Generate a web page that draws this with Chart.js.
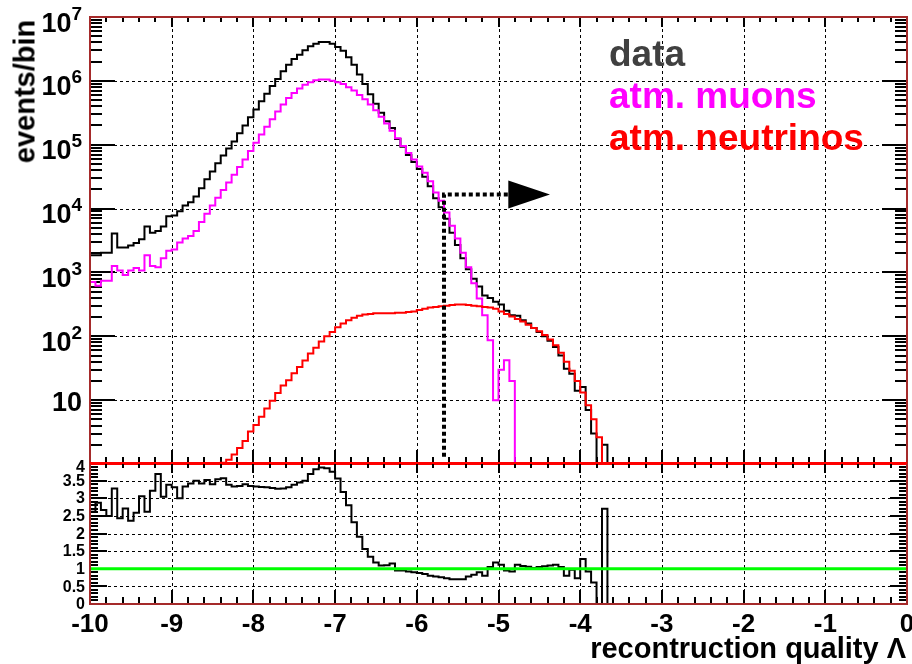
<!DOCTYPE html>
<html>
<head>
<meta charset="utf-8">
<script src="https://cdn.jsdelivr.net/npm/chart.js@4.4.1/dist/chart.umd.min.js"></script>
<style>
  body { margin: 0; background: #fff; }
  #wrap { position: relative; width: 912px; height: 664px; overflow: hidden;
          font-family: "Liberation Sans", Arial, Helvetica, sans-serif; font-weight: bold; }
  #wrap canvas { position: absolute; left: 0; }
  .lbl  { position: absolute; line-height: 1; white-space: nowrap; color: #000; }
  .xlbl { width: 80px; text-align: center; font-size: 26px; }
  .ylbl { text-align: right; font-size: 27px; }
  .ylbl .exp { font-size: 19px; position: relative; top: -6px; vertical-align: top; }
  .rlbl { text-align: right; font-size: 16px; }
  .leg  { position: absolute; left: 609px; font-size: 37px; line-height: 1; white-space: nowrap; }
</style>
</head>
<body>
<div id="wrap">
  <canvas id="cTop"   width="912" height="470" style="top:0"></canvas>
  <canvas id="cRatio" width="912" height="160" style="top:455px"></canvas>
</div>
<script>
/* ══════════════════════════════════════════════════════
   events/bin vs reconstruction quality  |  data vs MC + ratio
   ══════════════════════════════════════════════════════ */

'use strict';

// ── Axis ranges ─────────────────────────────────────
const X_MIN = -10, X_MAX = 0;
const Y_MIN = 1,   Y_MAX = 1e7;
const R_MIN = 0,   R_MAX = 4;

// ── Histograms: 150 bins from -10 to 0, events per bin ──
const DATA_COUNTS = [
  1860, 1860, 2040, 2040, 4070, 2450, 2450, 2630, 2880, 3310, 5250, 4170, 4470, 5250, 7590,
  7760, 9120, 11200, 12600, 15500, 20900, 28800, 38000, 51300, 67600, 87100, 112000, 151000, 200000, 269000,
  355000, 479000, 631000, 832000, 1070000, 1410000, 1780000, 2190000, 2570000, 3020000, 3470000, 3800000, 4070000, 4070000, 3800000,
  3390000, 2950000, 2340000, 1780000, 1260000, 891000, 617000, 437000, 316000, 234000, 182000, 123000, 93300, 69200, 53700,
  41700, 31600, 22400, 14500, 10500, 6920, 4170, 2690, 1660, 1120, 794, 603, 437, 398, 347,
  316, 251, 214, 209, 178, 158, 135, 117, 100, 85, 68, 50, 31, 26, 14,
  16, 7, 3, 0, 2, 0, 0, 0, 0, 0, 0, 0, 0, 0, 0,
  0, 0, 0, 0, 0, 0, 0, 0, 0, 0, 0, 0, 0, 0, 0,
  0, 0, 0, 0, 0, 0, 0, 0, 0, 0, 0, 0, 0, 0, 0,
  0, 0, 0, 0, 0, 0, 0, 0, 0, 0, 0, 0, 0, 0, 0
];

const MUON_COUNTS = [
  708, 617, 741, 741, 1260, 1070, 912, 1070, 1170, 1070, 1860, 1260, 1200, 1660, 2190,
  2290, 2950, 3390, 3720, 4470, 6170, 8320, 11200, 14800, 19500, 25700, 33900, 44700, 58900, 79400,
  107000, 145000, 191000, 251000, 331000, 427000, 537000, 646000, 759000, 871000, 955000, 1020000, 1050000, 1050000, 1000000,
  955000, 891000, 794000, 708000, 603000, 513000, 427000, 347000, 275000, 214000, 166000, 126000, 95500, 74100, 58900,
  45700, 36300, 26900, 17800, 13200, 8710, 5370, 3390, 2040, 1200, 676, 389, 214, 87, 10,
  30, 42, 20, 0, 0, 0, 0, 0, 0, 0, 0, 0, 0, 0, 0,
  0, 0, 0, 0, 0, 0, 0, 0, 0, 0, 0, 0, 0, 0, 0,
  0, 0, 0, 0, 0, 0, 0, 0, 0, 0, 0, 0, 0, 0, 0,
  0, 0, 0, 0, 0, 0, 0, 0, 0, 0, 0, 0, 0, 0, 0,
  0, 0, 0, 0, 0, 0, 0, 0, 0, 0, 0, 0, 0, 0, 0
];

const NU_COUNTS = [
  0, 0, 0, 0, 0, 0, 0, 0, 0, 0, 0, 0, 0, 0, 0,
  0, 0, 0, 0, 0, 0, 0, 0, 0, 1.05, 1.17, 1.41, 1.78, 2.29, 3.24,
  4.07, 5.50, 7.41, 9.77, 12.9, 17.0, 20.4, 26.3, 33.1, 41.7, 53.7, 66.1, 83.2, 100, 117,
  138, 158, 178, 195, 209, 219, 224, 229, 229, 229, 229, 234, 234, 240, 245,
  257, 269, 282, 288, 295, 302, 309, 316, 316, 309, 302, 295, 288, 282, 269,
  245, 224, 204, 186, 170, 151, 135, 120, 105, 89.1, 72.4, 55.0, 39.8, 28.8, 20.0,
  13.2, 8.32, 5.01, 2.63, 0.74, 0, 0, 0, 0, 0, 0, 0, 0, 0, 0,
  0, 0, 0, 0, 0, 0, 0, 0, 0, 0, 0, 0, 0, 0, 0,
  0, 0, 0, 0, 0, 0, 0, 0, 0, 0, 0, 0, 0, 0, 0,
  0, 0, 0, 0, 0, 0, 0, 0, 0, 0, 0, 0, 0, 0, 0
];

// data / (atm. muons + atm. neutrinos), same binning
const RATIO = [
  2.62, 2.87, 2.67, 2.50, 3.28, 2.43, 2.71, 2.36, 2.59, 3.06, 2.62, 3.21, 3.69, 3.04, 3.38,
  3.31, 3.00, 3.33, 3.42, 3.50, 3.42, 3.52, 3.40, 3.54, 3.57, 3.38, 3.33, 3.35, 3.40, 3.35,
  3.33, 3.32, 3.31, 3.29, 3.27, 3.28, 3.31, 3.38, 3.45, 3.50, 3.69, 3.82, 3.87, 3.85, 3.75,
  3.56, 3.18, 2.80, 2.32, 1.91, 1.56, 1.34, 1.18, 1.09, 1.10, 1.15, 0.95, 0.95, 0.92, 0.90,
  0.88, 0.85, 0.80, 0.78, 0.76, 0.73, 0.70, 0.70, 0.70, 0.78, 0.83, 0.90, 0.80, 1.05, 1.18,
  1.11, 0.95, 0.92, 1.11, 1.08, 1.06, 1.02, 1.05, 1.07, 1.09, 1.11, 1.05, 0.80, 0.97, 0.73,
  1.28, 0.92, 0.61, 0, 2.70, 0, 0, 0, 0, 0, 0, 0, 0, 0, 0,
  0, 0, 0, 0, 0, 0, 0, 0, 0, 0, 0, 0, 0, 0, 0,
  0, 0, 0, 0, 0, 0, 0, 0, 0, 0, 0, 0, 0, 0, 0,
  0, 0, 0, 0, 0, 0, 0, 0, 0, 0, 0, 0, 0, 0, 0
];
const RATIO_REF = 1;

// ── Ticks / labels ──────────────────────────────────
const X_LABELS     = [-10, -9, -8, -7, -6, -5, -4, -3, -2, -1, 0];
const LOG_LABELS   = [10, 1e2, 1e3, 1e4, 1e5, 1e6, 1e7];
const RATIO_LABELS = [0, 0.5, 1, 1.5, 2, 2.5, 3, 3.5, 4];

// ── Cut marker (dotted line + arrow) ────────────────
const CUT_X        = -5.667;
const CUT_LEVEL    = 1.66e4;
const CUT_FLOOR    = 1.3;
const ARROW_BASE_X = -4.88;
const ARROW_TIP_X  = -4.37;

// ── Legend ──────────────────────────────────────────
const LEGEND = [
  { text: 'data',           color: '#404040' },
  { text: 'atm. muons',     color: '#ff00ff' },
  { text: 'atm. neutrinos', color: '#ff0000' }
];

const FRAME = '#a52a2a';

// ── Helpers ─────────────────────────────────────────
function _histPoints(counts, floor) {
  const w = (X_MAX - X_MIN) / counts.length;
  const pts = counts.map((c, i) => ({ x: X_MIN + i * w, y: floor == null ? c : Math.max(c, floor) }));
  pts.push({ x: X_MAX, y: pts[pts.length - 1].y });
  return pts;
}

function _histDataset(points, color, order, width) {
  return {
    data: points,
    borderColor: color,
    borderWidth: width || 2,
    stepped: 'before',
    pointRadius: 0,
    fill: false,
    order,
    borderJoinStyle: 'miter',
    clip: { left: 1, top: 1, right: 1, bottom: 2 }
  };
}

function _frame(ctx, a, bottomColor) {
  ctx.setLineDash([]);
  ctx.lineWidth = 2;
  ctx.strokeStyle = FRAME;
  ctx.beginPath();
  ctx.moveTo(a.left, a.bottom);
  ctx.lineTo(a.left, a.top);
  ctx.lineTo(a.right, a.top);
  ctx.lineTo(a.right, a.bottom);
  ctx.stroke();
  ctx.strokeStyle = bottomColor;
  ctx.beginPath();
  ctx.moveTo(a.left - 1, a.bottom);
  ctx.lineTo(a.right + 1, a.bottom);
  ctx.stroke();
}

// dotted grid + solid tick marks (x: every 0.2, y: given list)
function _gridAndTicks(ctx, a, x, y, gridY, yTicks) {
  ctx.save();
  ctx.strokeStyle = '#000';
  ctx.lineWidth = 1;
  ctx.setLineDash([3, 3]);
  ctx.beginPath();
  X_LABELS.slice(1, -1).forEach(v => {
    const px = Math.round(x.getPixelForValue(v)) + 0.5;
    ctx.moveTo(px, a.top); ctx.lineTo(px, a.bottom);
  });
  gridY.forEach(v => {
    const py = Math.round(y.getPixelForValue(v)) + 0.5;
    ctx.moveTo(a.left, py); ctx.lineTo(a.right, py);
  });
  ctx.stroke();
  ctx.restore();

  ctx.save();
  ctx.setLineDash([]);
  ctx.strokeStyle = '#000';
  ctx.lineWidth = 2;
  ctx.beginPath();
  for (let k = 0; k <= 50; k++) {
    const px = Math.round(x.getPixelForValue(X_MIN + k * 0.2));
    const major = k % 5 === 0;
    ctx.moveTo(px, a.bottom); ctx.lineTo(px, a.bottom - (major ? 14 : 7));
    ctx.moveTo(px, a.top);    ctx.lineTo(px, a.top + (major ? 10 : 5));
  }
  yTicks.forEach(t => {
    const py = Math.round(y.getPixelForValue(t.v));
    ctx.moveTo(a.left, py);  ctx.lineTo(a.left + t.len, py);
    ctx.moveTo(a.right, py); ctx.lineTo(a.right - t.len, py);
  });
  ctx.stroke();
  ctx.restore();
}

function _logTicks() {
  const out = [];
  for (let d = 0; d < 7; d++) {
    for (let m = 1; m <= 9; m++) out.push({ v: m * Math.pow(10, d), len: m === 1 ? 25 : 12 });
  }
  return out;
}

function _ratioTicks() {
  const out = [];
  for (let k = 0; k <= 40; k++) out.push({ v: R_MIN + k * 0.1, len: k % 5 === 0 ? 17 : 8 });
  return out;
}

// ── Plugins ─────────────────────────────────────────
const topDecor = {
  id: 'topDecor',
  beforeDatasetsDraw(chart) {
    const { ctx, chartArea: a, scales: { x, y } } = chart;
    _gridAndTicks(ctx, a, x, y, LOG_LABELS.slice(0, -1), _logTicks());
  },
  afterDraw(chart) {
    const { ctx, chartArea: a, scales: { x, y } } = chart;
    ctx.save();
    // cut marker
    const cx = x.getPixelForValue(CUT_X), cy = y.getPixelForValue(CUT_LEVEL);
    const bx = x.getPixelForValue(ARROW_BASE_X), tx = x.getPixelForValue(ARROW_TIP_X);
    ctx.strokeStyle = '#000';
    ctx.fillStyle = '#000';
    ctx.lineWidth = 4;
    ctx.setLineDash([4, 3]);
    ctx.beginPath();
    ctx.moveTo(cx, y.getPixelForValue(CUT_FLOOR));
    ctx.lineTo(cx, cy);
    ctx.lineTo(bx, cy);
    ctx.stroke();
    ctx.setLineDash([]);
    ctx.beginPath();
    ctx.moveTo(bx, cy - 14); ctx.lineTo(tx, cy); ctx.lineTo(bx, cy + 14);
    ctx.closePath();
    ctx.fill();
    _frame(ctx, a, '#ff0000');
    ctx.restore();
  }
};

const ratioDecor = {
  id: 'ratioDecor',
  beforeDatasetsDraw(chart) {
    const { ctx, chartArea: a, scales: { x, y } } = chart;
    _gridAndTicks(ctx, a, x, y, RATIO_LABELS.slice(1, -1), _ratioTicks());
  },
  afterDraw(chart) {
    const { ctx, chartArea: a } = chart;
    ctx.save();
    _frame(ctx, a, FRAME);
    ctx.strokeStyle = '#ff0000';
    ctx.beginPath();
    ctx.moveTo(a.left, a.top); ctx.lineTo(a.right, a.top);
    ctx.stroke();
    ctx.restore();
  }
};

// ── Charts ──────────────────────────────────────────
function _baseOptions(yScale, padding) {
  return {
    responsive: false,
    animation: false,
    devicePixelRatio: 1,
    events: [],
    layout: { padding },
    plugins: { legend: { display: false }, tooltip: { enabled: false } },
    scales: {
      x: { type: 'linear', min: X_MIN, max: X_MAX, display: false },
      y: Object.assign({ display: false }, yScale)
    }
  };
}

const topChart = new Chart(document.getElementById('cTop'), {
  type: 'line',
  data: {
    datasets: [
      _histDataset(_histPoints(DATA_COUNTS, Y_MIN), '#000000', 3),
      _histDataset(_histPoints(MUON_COUNTS, Y_MIN), '#ff00ff', 2),
      _histDataset(_histPoints(NU_COUNTS,   Y_MIN), '#ff0000', 1)
    ]
  },
  options: _baseOptions({ type: 'logarithmic', min: Y_MIN, max: Y_MAX },
                        { left: 90, right: 5, top: 17, bottom: 6 }),
  plugins: [topDecor]
});

const ratioChart = new Chart(document.getElementById('cRatio'), {
  type: 'line',
  data: {
    datasets: [
      _histDataset(_histPoints(RATIO, null), '#000000', 2),
      Object.assign(_histDataset([{ x: X_MIN, y: RATIO_REF }, { x: X_MAX, y: RATIO_REF }], '#00ff00', 1, 3),
                    { stepped: false })
    ]
  },
  options: _baseOptions({ type: 'linear', min: R_MIN, max: R_MAX },
                        { left: 90, right: 5, top: 8, bottom: 11 }),
  plugins: [ratioDecor]
});

// ── Text: tick labels, titles, legend ───────────────
function _addDiv(cls, html, style) {
  const d = document.createElement('div');
  d.className = cls;
  d.innerHTML = html;
  Object.assign(d.style, style);
  document.getElementById('wrap').appendChild(d);
  return d;
}

function buildLabels() {
  const xs = ratioChart.scales.x;
  const rTop = 455;
  X_LABELS.forEach(v => {
    _addDiv('lbl xlbl', String(v), { left: (xs.getPixelForValue(v) - 40) + 'px', top: '610px' });
  });

  const ys = topChart.scales.y;
  LOG_LABELS.forEach(v => {
    const e = Math.round(Math.log10(v));
    const py = ys.getPixelForValue(v);
    const html = e === 1 ? '10' : '10<span class="exp">' + e + '</span>';
    _addDiv('lbl ylbl', html, { right: (912 - 82) + 'px', top: (py - (e === 1 ? 11.5 : 7.5)) + 'px' });
  });

  const rs = ratioChart.scales.y;
  RATIO_LABELS.forEach(v => {
    const py = rTop + rs.getPixelForValue(v) + (v === R_MAX ? 4 : 0);
    _addDiv('lbl rlbl', String(v), { right: (912 - 85) + 'px', top: (py - 7.8) + 'px' });
  });

  // axis titles
  _addDiv('lbl', 'recontruction quality &Lambda;',
          { right: '6px', top: '634px', fontSize: '29px' });
  _addDiv('lbl', 'events/bin',
          { left: '-50px', top: '77px', width: '150px', textAlign: 'center', fontSize: '29px',
            transform: 'rotate(-90deg)' });

  // legend
  LEGEND.forEach((l, i) => {
    _addDiv('leg', l.text, { top: (35.4 + i * 41.7) + 'px', color: l.color });
  });
}

buildLabels();
</script>
</body>
</html>
